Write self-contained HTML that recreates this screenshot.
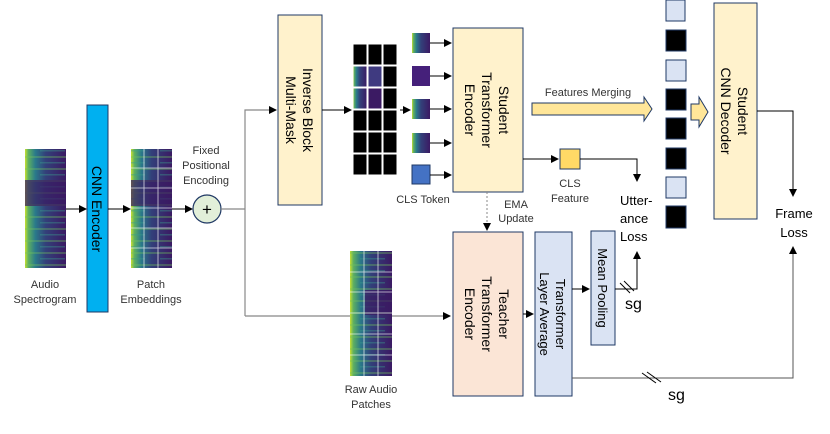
<!DOCTYPE html>
<html><head><meta charset="utf-8"><style>
body{margin:0;background:#fff}
svg{display:block;font-family:"Liberation Sans","DejaVu Sans",sans-serif}
</style></head><body>
<svg width="830" height="434" viewBox="0 0 830 434" xmlns="http://www.w3.org/2000/svg">
<defs>
<marker id="a" markerWidth="8" markerHeight="8" refX="7" refY="4" orient="auto" markerUnits="userSpaceOnUse"><path d="M0,0 L8,4 L0,8 Z" fill="#000"/></marker>
<linearGradient id="sp" x1="0" y1="0" x2="1" y2="0">
<stop offset="0" stop-color="#c8e030"/><stop offset="0.08" stop-color="#5fb060"/><stop offset="0.25" stop-color="#2a7a8a"/><stop offset="0.5" stop-color="#33407a"/><stop offset="1" stop-color="#3b1a63"/></linearGradient>
<pattern id="st" width="40" height="12" patternUnits="userSpaceOnUse"><rect width="40" height="12" fill="none"/><rect y="0" width="40" height="2" fill="#6fbf5a" opacity="0.35"/><rect y="6" width="25" height="1.5" fill="#3a9a8a" opacity="0.4"/></pattern>
</defs>
<g font-size="11" fill="#333">
<!-- spectrogram -->
<rect x="25" y="149" width="41" height="119" fill="url(#sp)"/>
<rect x="25" y="149" width="41" height="119" fill="url(#st)"/>
<rect x="25" y="180" width="41" height="26" fill="#3b1a63" opacity="0.7"/>
<text x="45" y="288" text-anchor="middle">Audio</text>
<text x="45" y="303" text-anchor="middle">Spectrogram</text>
<line x1="66" y1="209" x2="86" y2="209" stroke="#000" marker-end="url(#a)"/>
<!-- CNN encoder -->
<rect x="87" y="105" width="21" height="207" fill="#00b0f0" stroke="#1f3864"/>
<text transform="translate(92,209) rotate(90)" text-anchor="middle" font-size="14" fill="#000">CNN Encoder</text>
<line x1="108" y1="209" x2="130" y2="209" stroke="#000" marker-end="url(#a)"/>
<!-- patch embeddings -->
<rect x="131" y="149" width="41" height="119" fill="url(#sp)"/>
<rect x="131" y="149" width="41" height="119" fill="url(#st)"/>
<rect x="131" y="180" width="41" height="26" fill="#3b1a63" opacity="0.7"/>
<g stroke="#fff" stroke-width="0.8" opacity="0.8">
<line x1="144" y1="149" x2="144" y2="268"/><line x1="158" y1="149" x2="158" y2="268"/>
<line x1="131" y1="168" x2="172" y2="168"/><line x1="131" y1="188" x2="172" y2="188"/><line x1="131" y1="208" x2="172" y2="208"/><line x1="131" y1="228" x2="172" y2="228"/><line x1="131" y1="248" x2="172" y2="248"/></g>
<text x="151" y="288" text-anchor="middle">Patch</text>
<text x="151" y="303" text-anchor="middle">Embeddings</text>
<line x1="172" y1="209" x2="192" y2="209" stroke="#000" marker-end="url(#a)"/>
<text x="206" y="154" text-anchor="middle">Fixed</text>
<text x="206" y="169" text-anchor="middle">Positional</text>
<text x="206" y="184" text-anchor="middle">Encoding</text>
<circle cx="207" cy="209" r="14" fill="#e2efd9" stroke="#1f3864" stroke-width="1.2"/>
<text x="207" y="215" text-anchor="middle" font-size="17" fill="#000">+</text>
<!-- branching lines -->
<polyline points="221,209 245,209" fill="none" stroke="#888" stroke-width="1.2"/>
<polyline points="245,316 245,110 276,110" fill="none" stroke="#888" stroke-width="1.2" marker-end="url(#a)"/>
<polyline points="245,316 450,316" fill="none" stroke="#888" stroke-width="1.2" marker-end="url(#a)"/>
<!-- inverse block -->
<rect x="278" y="15" width="44" height="190" fill="#fff2cc" stroke="#1f3864"/>
<text transform="translate(303,110) rotate(90)" text-anchor="middle" font-size="14" fill="#000">Inverse Block</text>
<text transform="translate(286,110) rotate(90)" text-anchor="middle" font-size="14" fill="#000">Multi-Mask</text>
<line x1="322" y1="110" x2="351" y2="110" stroke="#000" marker-end="url(#a)"/>
<!-- mask grid -->
<g stroke="#fff" stroke-width="1">
<rect x="353" y="44" width="14" height="21" fill="#000"/><rect x="368" y="44" width="14" height="21" fill="#000"/><rect x="383" y="44" width="14" height="21" fill="#000"/>
<rect x="353" y="66" width="14" height="21" fill="url(#sp)"/><rect x="368" y="66" width="14" height="21" fill="#3f3a80"/><rect x="383" y="66" width="14" height="21" fill="#000"/>
<rect x="353" y="88" width="14" height="21" fill="url(#sp)"/><rect x="368" y="88" width="14" height="21" fill="#3b1a63"/><rect x="383" y="88" width="14" height="21" fill="#000"/>
<rect x="353" y="110" width="14" height="21" fill="#000"/><rect x="368" y="110" width="14" height="21" fill="#000"/><rect x="383" y="110" width="14" height="21" fill="#000"/>
<rect x="353" y="132" width="14" height="21" fill="#000"/><rect x="368" y="132" width="14" height="21" fill="#000"/><rect x="383" y="132" width="14" height="21" fill="#000"/>
<rect x="353" y="154" width="14" height="21" fill="#000"/><rect x="368" y="154" width="14" height="21" fill="#000"/><rect x="383" y="154" width="14" height="21" fill="#000"/>
</g>
<line x1="400" y1="110" x2="410" y2="110" stroke="#000" marker-end="url(#a)"/>
<!-- tokens -->
<rect x="412" y="33" width="18" height="20" fill="url(#sp)"/>
<rect x="412" y="66" width="18" height="20" fill="#45207a"/>
<rect x="412" y="99" width="18" height="20" fill="url(#sp)"/>
<rect x="412" y="133" width="18" height="20" fill="url(#sp)"/>
<rect x="412" y="165" width="18" height="19" fill="#4472c4" stroke="#1f3864"/>
<text x="423" y="203" text-anchor="middle">CLS Token</text>
<g stroke="#000"><line x1="430" y1="43" x2="451" y2="43" marker-end="url(#a)"/><line x1="430" y1="76" x2="451" y2="76" marker-end="url(#a)"/><line x1="430" y1="109" x2="451" y2="109" marker-end="url(#a)"/><line x1="430" y1="143" x2="451" y2="143" marker-end="url(#a)"/><line x1="430" y1="175" x2="451" y2="175" marker-end="url(#a)"/></g>
<!-- student encoder -->
<rect x="453" y="28" width="70" height="164" fill="#fff2cc" stroke="#1f3864"/>
<text transform="translate(499,110) rotate(90)" text-anchor="middle" font-size="14" fill="#000">Student</text>
<text transform="translate(482,110) rotate(90)" text-anchor="middle" font-size="14" fill="#000">Transformer</text>
<text transform="translate(465,110) rotate(90)" text-anchor="middle" font-size="14" fill="#000">Encoder</text>
<!-- features merging -->
<text x="588" y="96" text-anchor="middle">Features Merging</text>
<path d="M532,103 L644,103 L644,97 L652,109 L644,121 L644,115 L532,115 Z" fill="#ffe699" stroke="#1f3864"/>
<!-- CLS feature -->
<line x1="523" y1="159" x2="558" y2="159" stroke="#000" marker-end="url(#a)"/>
<rect x="560" y="149" width="20" height="20" fill="#ffd966" stroke="#1f3864"/>
<polyline points="580,159 637,159 637,181" fill="none" stroke="#000" marker-end="url(#a)"/>
<text x="570" y="187" text-anchor="middle">CLS</text>
<text x="570" y="202" text-anchor="middle">Feature</text>
<text x="620" y="205" font-size="13" fill="#000">Utter-</text>
<text x="620" y="223" font-size="13" fill="#000">ance</text>
<text x="620" y="241" font-size="13" fill="#000">Loss</text>
<!-- EMA -->
<line x1="487" y1="192" x2="487" y2="230" stroke="#888" stroke-dasharray="2,2" marker-end="url(#a)"/>
<text x="516" y="208" text-anchor="middle">EMA</text>
<text x="516" y="222" text-anchor="middle">Update</text>
<!-- column -->
<g stroke="#1f3864">
<rect x="666" y="0" width="19" height="21" fill="#dae3f3"/>
<rect x="666" y="30" width="20" height="21" fill="#000"/>
<rect x="666" y="60" width="20" height="21" fill="#dae3f3"/>
<rect x="666" y="89" width="20" height="21" fill="#000"/>
<rect x="666" y="118" width="20" height="21" fill="#000"/>
<rect x="666" y="148" width="20" height="21" fill="#000"/>
<rect x="666" y="177" width="20" height="21" fill="#dae3f3"/>
<rect x="666" y="206" width="20" height="22" fill="#000"/>
</g>
<path d="M691,104 L699,104 L699,97 L708,112 L699,127 L699,120 L691,120 Z" fill="#ffe699" stroke="#1f3864"/>
<!-- decoder -->
<rect x="714" y="3" width="43" height="216" fill="#fff2cc" stroke="#1f3864"/>
<text transform="translate(738,111) rotate(90)" text-anchor="middle" font-size="14" fill="#000">Student</text>
<text transform="translate(721,111) rotate(90)" text-anchor="middle" font-size="14" fill="#000">CNN Decoder</text>
<polyline points="757,111 793,111 793,196" fill="none" stroke="#000" marker-end="url(#a)"/>
<text x="794" y="218" text-anchor="middle" font-size="13" fill="#000">Frame</text>
<text x="794" y="237" text-anchor="middle" font-size="13" fill="#000">Loss</text>
<!-- raw audio patches -->
<rect x="350" y="251" width="42" height="125" fill="url(#sp)"/>
<rect x="350" y="251" width="42" height="125" fill="url(#st)"/>
<rect x="365" y="290" width="27" height="25" fill="#3b1a63" opacity="0.7"/>
<g stroke="#fff" stroke-width="0.8" opacity="0.8">
<line x1="364" y1="251" x2="364" y2="376"/><line x1="378" y1="251" x2="378" y2="376"/>
<line x1="350" y1="272" x2="392" y2="272"/><line x1="350" y1="292" x2="392" y2="292"/><line x1="350" y1="313" x2="392" y2="313"/><line x1="350" y1="334" x2="392" y2="334"/><line x1="350" y1="355" x2="392" y2="355"/></g>
<text x="371" y="393" text-anchor="middle">Raw Audio</text>
<text x="371" y="408" text-anchor="middle">Patches</text>
<!-- teacher -->
<rect x="453" y="232" width="70" height="164" fill="#fbe5d6" stroke="#1f3864"/>
<text transform="translate(499,314) rotate(90)" text-anchor="middle" font-size="14" fill="#000">Teacher</text>
<text transform="translate(482,314) rotate(90)" text-anchor="middle" font-size="14" fill="#000">Transformer</text>
<text transform="translate(465,314) rotate(90)" text-anchor="middle" font-size="14" fill="#000">Encoder</text>
<line x1="523" y1="314" x2="533" y2="314" stroke="#000" marker-end="url(#a)"/>
<rect x="535" y="232" width="37" height="164" fill="#dae3f3" stroke="#1f3864"/>
<text transform="translate(556,314) rotate(90)" text-anchor="middle" font-size="13" fill="#000">Transformer</text>
<text transform="translate(540,314) rotate(90)" text-anchor="middle" font-size="13" fill="#000">Layer Average</text>
<line x1="572" y1="289" x2="589" y2="289" stroke="#000" marker-end="url(#a)"/>
<rect x="591" y="231" width="24" height="114" fill="#dae3f3" stroke="#1f3864"/>
<text transform="translate(598,288) rotate(90)" text-anchor="middle" font-size="13" fill="#000">Mean Pooling</text>
<polyline points="615,289 637,289 637,252" fill="none" stroke="#000" marker-end="url(#a)"/>
<line x1="620" y1="283" x2="630" y2="293" stroke="#000"/><line x1="624" y1="281" x2="634" y2="291" stroke="#000"/>
<text x="625" y="309" font-size="16" fill="#000">sg</text>
<polyline points="572,378 793,378 793,247" fill="none" stroke="#555" marker-end="url(#a)"/>
<line x1="642" y1="373" x2="656" y2="383" stroke="#000"/><line x1="647" y1="372" x2="661" y2="382" stroke="#000"/>
<text x="668" y="400" font-size="16" fill="#000">sg</text>
</g>
</svg>
</body></html>
